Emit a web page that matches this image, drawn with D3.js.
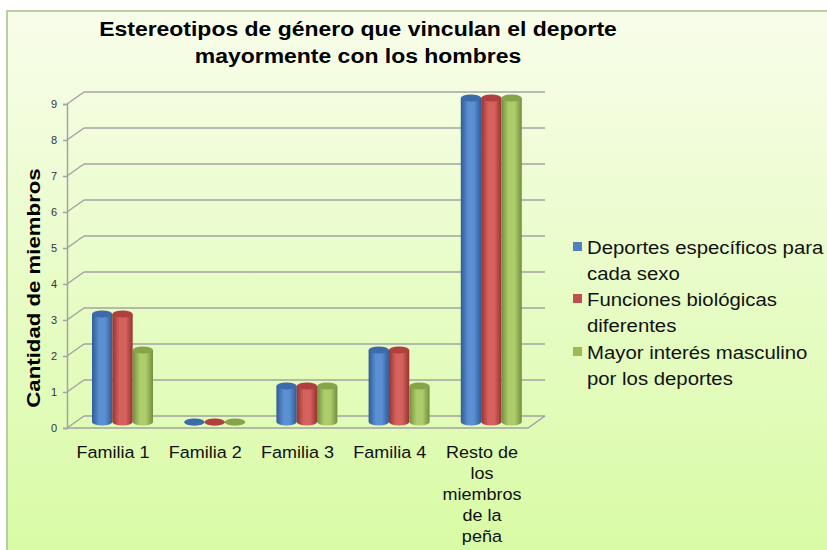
<!DOCTYPE html>
<html>
<head>
<meta charset="utf-8">
<script src="https://cdn.jsdelivr.net/npm/d3@7"></script>
<style>
  html, body { margin: 0; padding: 0; background: #fff; }
  svg { display: block; font-family: "Liberation Sans", Arial, sans-serif; }
</style>
</head>
<body>
<div id="chart"></div>
<script>
const categories = ['Familia 1', 'Familia 2', 'Familia 3', 'Familia 4', 'Resto de los miembros de la peña'];
const categoryLines = [['Familia 1'], ['Familia 2'], ['Familia 3'], ['Familia 4'], ['Resto de', 'los', 'miembros', 'de la', 'peña']];
const seriesNames = ['Deportes específicos para cada sexo', 'Funciones biológicas diferentes', 'Mayor interés masculino por los deportes'];
const legendLines = [['Deportes específicos para', 'cada sexo'], ['Funciones biológicas', 'diferentes'], ['Mayor interés masculino', 'por los deportes']];
const deportesEspecificos = [3, 0, 1, 2, 9];
const funcionesBiologicas = [3, 0, 1, 2, 9];
const mayorInteres = [2, 0, 1, 1, 9];
const yTicks = [0, 1, 2, 3, 4, 5, 6, 7, 8, 9];
const titleLines = ['Estereotipos de género que vinculan el deporte', 'mayormente con los hombres'];
const yTitle = 'Cantidad de miembros';

const seriesValues = [deportesEspecificos, funcionesBiologicas, mayorInteres];
const colors = [
  { edge: '#2f5b96', mid: '#5a8fd2', top: '#3d6aa8' },
  { edge: '#963331', mid: '#d6625e', top: '#b0403d' },
  { edge: '#738f3b', mid: '#adcc6c', top: '#86a54a' }
];
const legendColors = ['#4f81bd', '#c0504d', '#9bbb59'];

const width = 827, height = 550;
const depth = { dx: 17, dy: -12 };
const mid = { dx: depth.dx / 2, dy: depth.dy / 2 };

const svg = d3.select('#chart').append('svg')
  .attr('width', width)
  .attr('height', height);

const defs = svg.append('defs');
const bg = defs.append('linearGradient').attr('id', 'bg')
  .attr('x1', 0).attr('y1', 0).attr('x2', 0).attr('y2', 1);
bg.append('stop').attr('offset', '0%').attr('stop-color', '#f8fdea');
bg.append('stop').attr('offset', '100%').attr('stop-color', '#d8fba4');

colors.forEach((c, i) => {
  const g = defs.append('linearGradient').attr('id', 'cyl' + i)
    .attr('x1', 0).attr('y1', 0).attr('x2', 1).attr('y2', 0);
  g.append('stop').attr('offset', '0%').attr('stop-color', c.edge);
  g.append('stop').attr('offset', '35%').attr('stop-color', c.mid);
  g.append('stop').attr('offset', '65%').attr('stop-color', c.mid);
  g.append('stop').attr('offset', '100%').attr('stop-color', c.edge);
});

// background panel
svg.append('rect')
  .attr('x', 7).attr('y', 11)
  .attr('width', width).attr('height', height)
  .attr('fill', 'url(#bg)')
  .attr('stroke', '#a8bf8c')
  .attr('stroke-width', 1.5);

const y = d3.scaleLinear().domain([0, 9]).range([428, 104]);
const x = d3.scaleBand().domain(categories).range([67, 528]);
const xs = d3.scaleBand().domain(seriesNames).range([16.5, 77.5]);

const gridColor = '#a3a3a3';

// back wall and side wall gridlines
const grid = svg.append('g');
grid.selectAll('line.back')
  .data(yTicks)
  .join('line')
  .attr('class', 'back')
  .attr('x1', x.range()[0] + depth.dx)
  .attr('x2', x.range()[1] + depth.dx)
  .attr('y1', d => y(d) + depth.dy)
  .attr('y2', d => y(d) + depth.dy)
  .attr('stroke', gridColor).attr('stroke-width', 1.5);
grid.selectAll('line.side')
  .data(yTicks)
  .join('line')
  .attr('class', 'side')
  .attr('x1', x.range()[0])
  .attr('x2', x.range()[0] + depth.dx)
  .attr('y1', d => y(d))
  .attr('y2', d => y(d) + depth.dy)
  .attr('stroke', gridColor).attr('stroke-width', 1.5);

// floor front edge
grid.append('path')
  .attr('d', `M${x.range()[0]},${y(0)} L${x.range()[1]},${y(0)} L${x.range()[1] + depth.dx},${y(0) + depth.dy}`)
  .attr('fill', 'none')
  .attr('stroke', gridColor).attr('stroke-width', 1.5);

// y axis
const axis = svg.append('g')
  .attr('transform', `translate(${x.range()[0]},0)`)
  .call(d3.axisLeft(y).tickValues(yTicks).tickSize(4).tickPadding(6));
axis.select('.domain').attr('stroke', gridColor).attr('stroke-width', 1.5);
axis.selectAll('.tick line').attr('stroke', gridColor).attr('stroke-width', 1.5);
axis.selectAll('.tick text')
  .attr('font-size', 11)
  .attr('font-family', '"Liberation Sans", Arial, sans-serif')
  .attr('fill', '#333');

// cylinders
const ry = 3.5;
const bars = [];
categories.forEach((cat, ci) => {
  seriesNames.forEach((s, si) => {
    bars.push({ cat, s, si, value: seriesValues[si][ci] });
  });
});

const barG = svg.append('g');
const bar = barG.selectAll('g.bar')
  .data(bars)
  .join('g')
  .attr('class', 'bar');

bar.append('path')
  .attr('d', d => {
    const x0 = x(d.cat) + mid.dx + xs(d.s);
    const w = xs.bandwidth();
    const yb = y(0) + mid.dy;
    const yt = y(d.value) + mid.dy;
    return `M${x0},${yt} L${x0},${yb} A${w / 2},${ry} 0 0 0 ${x0 + w},${yb} L${x0 + w},${yt} Z`;
  })
  .attr('fill', d => `url(#cyl${d.si})`);

bar.append('ellipse')
  .attr('cx', d => x(d.cat) + mid.dx + xs(d.s) + xs.bandwidth() / 2)
  .attr('cy', d => y(d.value) + mid.dy)
  .attr('rx', xs.bandwidth() / 2)
  .attr('ry', ry)
  .attr('fill', d => colors[d.si].top);

// helper for horizontally stretched text
function stretchedText(g, str, px, py, opts) {
  const t = g.append('text')
    .attr('transform', `translate(${px},${py})${opts.rotate ? ' rotate(' + opts.rotate + ')' : ''} scale(${opts.sx},1)`)
    .attr('font-size', opts.size)
    .attr('font-weight', opts.bold ? 'bold' : 'normal')
    .attr('text-anchor', opts.anchor || 'middle')
    .attr('fill', opts.fill || '#111')
    .text(str);
  return t;
}

// category labels
const catG = svg.append('g');
categoryLines.forEach((lines, i) => {
  lines.forEach((ln, j) => {
    stretchedText(catG, ln, x(categories[i]) + x.bandwidth() / 2, 458 + j * 21, { size: 17, sx: 1.06 });
  });
});

// title
const titleG = svg.append('g');
titleLines.forEach((ln, i) => {
  stretchedText(titleG, ln, 358, 36 + i * 27, { size: 20.5, sx: 1.12, bold: true, fill: '#000' });
});

// y title
stretchedText(svg, yTitle, 40, 288, { size: 19, sx: 1.17, bold: true, rotate: -90, fill: '#000' });

// legend
const legendG = svg.append('g');
const legendTop = [254, 306, 359];
legendLines.forEach((lines, i) => {
  legendG.append('rect')
    .attr('x', 573).attr('y', legendTop[i] - 12)
    .attr('width', 9).attr('height', 9)
    .attr('fill', legendColors[i]);
  lines.forEach((ln, j) => {
    stretchedText(legendG, ln, 587, legendTop[i] + j * 26, { size: 18.5, sx: 1.1, anchor: 'start' });
  });
});
</script>
</body>
</html>
